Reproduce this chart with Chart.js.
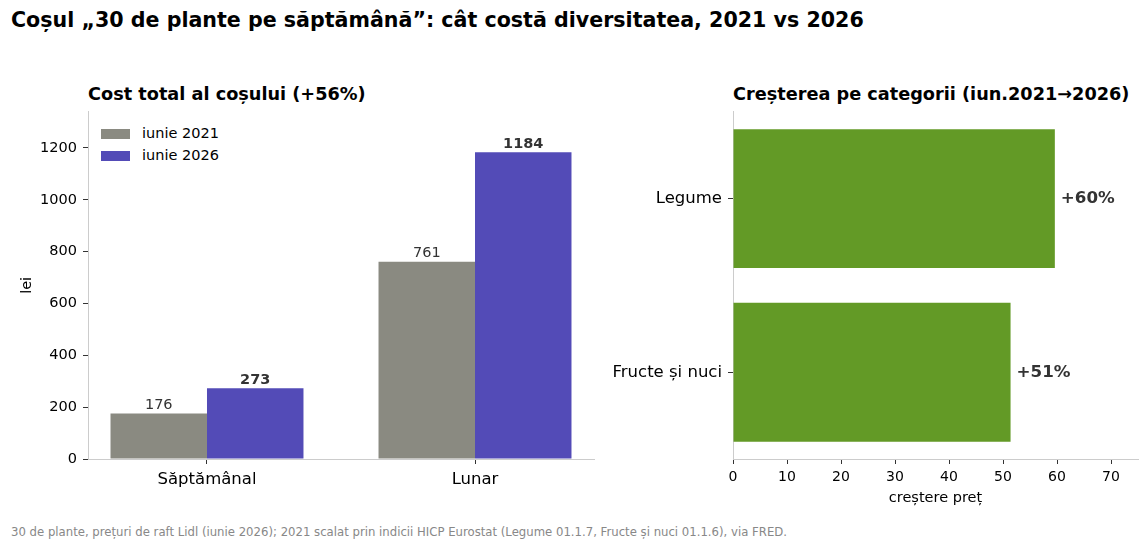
<!DOCTYPE html>
<html>
<head>
<meta charset="utf-8">
<script src="https://cdn.jsdelivr.net/npm/chart.js@4"></script>
<style>
  body { margin: 0; width: 1148px; height: 550px; background: #fff; font-family: "DejaVu Sans", sans-serif; position: relative; overflow: hidden; }
  .t { position: absolute; white-space: nowrap; }
  #title { left: 11px; top: 8px; font-size: 20.6px; font-weight: bold; color: #000; }
  #sub1 { left: 88px; top: 84px; font-size: 17.7px; font-weight: bold; color: #000; }
  #sub2 { left: 733px; top: 84px; font-size: 17.7px; font-weight: bold; color: #000; }
  #foot { left: 11px; top: 525px; font-size: 11.7px; color: #888; }
  #legend { position: absolute; left: 101px; top: 124px; font-size: 14.5px; color: #000; }
  #legend div { height: 22px; line-height: 19px; }
  #legend span.box { display: inline-block; width: 29px; height: 10px; vertical-align: -1px; margin-right: 12px; }
  canvas { position: absolute; display: block; }
  #c1 { left: 0; top: 97px; }
  #c2 { left: 600px; top: 96px; }
</style>
</head>
<body>
<div id="title" class="t">Coșul „30 de plante pe săptămână”: cât costă diversitatea, 2021 vs 2026</div>
<div id="sub1" class="t">Cost total al coșului (+56%)</div>
<div id="sub2" class="t">Creșterea pe categorii (iun.2021→2026)</div>
<div id="legend"></div>
<canvas id="c1" width="610" height="423" style="width:610px;height:423px"></canvas>
<canvas id="c2" width="548" height="424" style="width:548px;height:424px"></canvas>
<div id="foot" class="t">30 de plante, prețuri de raft Lidl (iunie 2026); 2021 scalat prin indicii HICP Eurostat (Legume 01.1.7, Fructe și nuci 01.1.6), via FRED.</div>
<script>
// left: basket cost
const periods = ['Săptămânal', 'Lunar']
const cost2021 = [176, 761]
const cost2026 = [273, 1184]
const seriesNames = ['iunie 2021', 'iunie 2026']
const costTicks = [0, 200, 400, 600, 800, 1000, 1200]

// right: growth by category
const categories = ['Legume', 'Fructe și nuci']
const growth = [59.6, 51.4]
const growthTicks = [0, 10, 20, 30, 40, 50, 60, 70]

const gray = '#8a8a81'
const purple = '#534bb7'
const green = '#639a26'
const font = 'DejaVu Sans'

Chart.defaults.font.family = font
Chart.defaults.color = '#000'
Chart.defaults.animation = false

// legend
let legend = document.getElementById('legend')
;[gray, purple].forEach((c, i) => {
    legend.innerHTML += `<div><span class="box" style="background:${c}"></span>${seriesNames[i]}</div>`
})

// value labels
const barLabels = {
    id: 'barLabels',
    afterDatasetsDraw(chart, args, opts) {
        const ctx = chart.ctx
        chart.data.datasets.forEach((ds, di) => {
            const meta = chart.getDatasetMeta(di)
            meta.data.forEach((bar, i) => {
                const v = typeof ds.data[i] === 'object' ? ds.data[i].y : ds.data[i]
                ctx.save()
                ctx.fillStyle = '#333'
                if (opts.horizontal) {
                    ctx.font = 'bold 16.7px "' + font + '"'
                    ctx.textAlign = 'left'
                    ctx.textBaseline = 'middle'
                    ctx.fillText('+' + Math.round(v) + '%', bar.x + 6, bar.y)
                } else {
                    ctx.font = (di === 1 ? 'bold ' : '') + '14.5px "' + font + '"'
                    ctx.textAlign = 'center'
                    ctx.textBaseline = 'bottom'
                    ctx.fillText(v, bar.x, bar.y - 1)
                }
                ctx.restore()
            })
        })
    }
}

const axisGrid = { drawOnChartArea: false, drawTicks: true, tickLength: 5, tickColor: '#333', offset: false }
const axisBorder = { display: true, color: '#cccccc', width: 1 }

new Chart(document.getElementById('c1'), {
    type: 'bar',
    data: {
        datasets: [
            { label: seriesNames[0], data: cost2021.map((v, i) => ({ x: i, y: v })), backgroundColor: gray },
            { label: seriesNames[1], data: cost2026.map((v, i) => ({ x: i, y: v })), backgroundColor: purple }
        ]
    },
    options: {
        responsive: false,
        categoryPercentage: 0.72,
        barPercentage: 1,
        layout: { padding: { left: 0, right: 16, top: 0, bottom: 0 } },
        plugins: { legend: { display: false }, tooltip: { enabled: false }, barLabels: {} },
        scales: {
            x: {
                type: 'linear', min: -0.444, max: 1.444, offset: false,
                grid: axisGrid, border: axisBorder,
                afterBuildTicks: s => { s.ticks = periods.map((p, i) => ({ value: i })) },
                afterFit: s => { s.height = 61 },
                ticks: { padding: 6, font: { size: 16.5 }, color: '#000', callback: v => periods[v] }
            },
            y: {
                min: 0, max: 1340,
                grid: axisGrid, border: axisBorder,
                afterBuildTicks: s => { s.ticks = costTicks.map(v => ({ value: v })) },
                afterFit: s => { s.width = 88 },
                ticks: { padding: 6, font: { size: 14.5 }, color: '#000', callback: v => String(v) },
                title: { display: true, text: 'lei', font: { size: 14.5 }, color: '#000', padding: { top: 19, bottom: 0 } }
            }
        }
    },
    plugins: [barLabels]
})

new Chart(document.getElementById('c2'), {
    type: 'bar',
    data: {
        labels: categories,
        datasets: [{ label: 'creștere preț', data: growth, backgroundColor: green }]
    },
    options: {
        indexAxis: 'y',
        responsive: false,
        categoryPercentage: 0.8,
        barPercentage: 1,
        layout: { padding: { left: 0, right: 10, top: 0, bottom: 0 } },
        plugins: { legend: { display: false }, tooltip: { enabled: false }, barLabels: { horizontal: true } },
        scales: {
            x: {
                type: 'linear', min: 0, max: 75,
                grid: axisGrid, border: axisBorder,
                afterBuildTicks: s => { s.ticks = growthTicks.map(v => ({ value: v })) },
                afterFit: s => { s.height = 61 },
                ticks: { padding: 5, font: { size: 14 }, color: '#000' },
                title: { display: true, text: 'creștere preț', font: { size: 14.5 }, color: '#000', padding: { top: 0, bottom: 13 } }
            },
            y: {
                grid: axisGrid, border: axisBorder,
                afterFit: s => { s.width = 133 },
                ticks: { padding: 6, font: { size: 16.5 }, color: '#000' }
            }
        }
    },
    plugins: [barLabels]
})
</script>
</body>
</html>
